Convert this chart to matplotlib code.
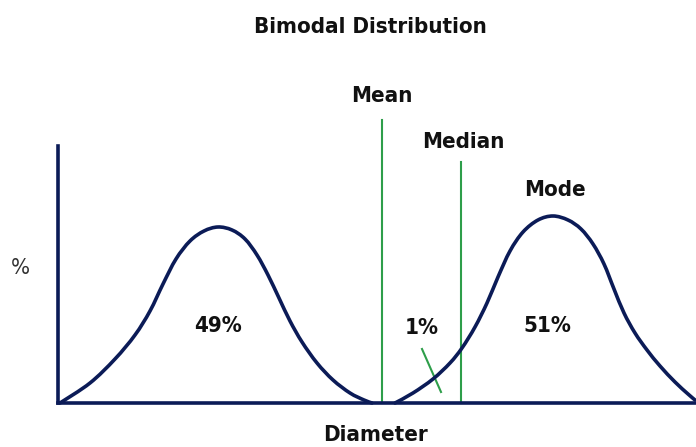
import matplotlib
matplotlib.use("Agg")
import matplotlib.pyplot as plt
from matplotlib.path import Path
from matplotlib.patches import PathPatch

# ---- data (x in horizontal units, y = height above baseline) ----
left_x = [60, 90, 115, 135, 150, 163, 176, 190, 204, 218, 232, 245, 257, 268, 279, 290, 302, 317, 333, 350, 364, 372]
left_y = [0, 20, 44, 68, 92, 119, 144, 162, 172, 176, 173, 164, 148, 128, 105, 82, 61, 40, 23, 10, 3, 0]
right_x = [395, 413, 433, 450, 462, 475, 487, 498, 510, 523, 538, 553, 568, 581, 593, 604, 614, 624, 635, 647, 660, 675, 688, 695]
right_y = [0, 10, 24, 40, 55, 76, 100, 126, 152, 171, 183, 187, 183, 174, 159, 139, 114, 90, 70, 53, 37, 21, 9, 3]
mean_x, mean_top = 382, 283
median_x, median_top = 461, 241
pointer_x = [422, 441]
pointer_y = [54, 11]
share_labels = ["49%", "1%", "51%"]
share_x = [218, 422, 547]
share_y = [77, 75, 77]

plt.rcParams["font.family"] = ["DejaVu Sans"]
plt.rcParams["font.stretch"] = "condensed"
plt.rcParams["font.weight"] = "bold"

navy = "#0b1b57"
green = "#2e9e4a"
txt = "#111111"


def smooth_path(xs, ys):
    """Catmull-Rom curve through the given points, drawn as Bezier segments."""
    pts = list(zip(xs, ys))
    verts = [pts[0]]
    codes = [Path.MOVETO]
    n = len(pts)
    for i in range(n - 1):
        p0 = pts[i - 1] if i > 0 else pts[i]
        p1 = pts[i]
        p2 = pts[i + 1]
        p3 = pts[i + 2] if i + 2 < n else pts[i + 1]
        c1 = (p1[0] + (p2[0] - p0[0]) / 6, p1[1] + (p2[1] - p0[1]) / 6)
        c2 = (p2[0] - (p3[0] - p1[0]) / 6, p2[1] - (p3[1] - p1[1]) / 6)
        verts += [c1, c2, p2]
        codes += [Path.CURVE4] * 3
    return Path(verts, codes)


fig = plt.figure(figsize=(6.96, 4.47), dpi=100)
ax = fig.add_axes([58 / 696, (447 - 403) / 447, 1 - 58 / 696, (403 - 146) / 447])
ax.set_xlim(58, 696)
ax.set_ylim(0, 257)

for xs, ys in [(left_x, left_y), (right_x, right_y)]:
    ax.add_patch(PathPatch(smooth_path(xs, ys), facecolor="none", edgecolor=navy,
                           lw=2.6, capstyle="round", clip_on=False, zorder=3))
ax.plot([mean_x, mean_x], [0, mean_top], color=green, lw=1.5, clip_on=False)
ax.plot([median_x, median_x], [0, median_top], color=green, lw=1.5, clip_on=False)
ax.plot(pointer_x, pointer_y, color=green, lw=1.5, clip_on=False)

for s in ["top", "right"]:
    ax.spines[s].set_visible(False)
for s in ["left", "bottom"]:
    ax.spines[s].set_color(navy)
    ax.spines[s].set_linewidth(2.6)
    ax.spines[s].set_zorder(4)
ax.set_xticks([])
ax.set_yticks([])

fs = 16
ax.text(mean_x, 307, "Mean", ha="center", va="center", fontsize=fs, color=txt, clip_on=False)
ax.text(median_x + 2, 261, "Median", ha="center", va="center", fontsize=fs, color=txt, clip_on=False)
ax.text(555, 213, "Mode", ha="center", va="center", fontsize=fs, color=txt, clip_on=False)
for lab, x, y in zip(share_labels, share_x, share_y):
    ax.text(x, y, lab, ha="center", va="center", fontsize=fs, color=txt)

fig.text(370 / 696, 1 - 27 / 447, "Bimodal Distribution", ha="center", va="center", fontsize=fs, color=txt)
fig.text(375 / 696, 1 - 435 / 447, "Diameter", ha="center", va="center", fontsize=fs, color=txt)
fig.text(20 / 696, 1 - 268 / 447, "%", ha="center", va="center", fontsize=fs, color="#333333",
         fontweight="normal")

fig.savefig("out.png", dpi=100)
